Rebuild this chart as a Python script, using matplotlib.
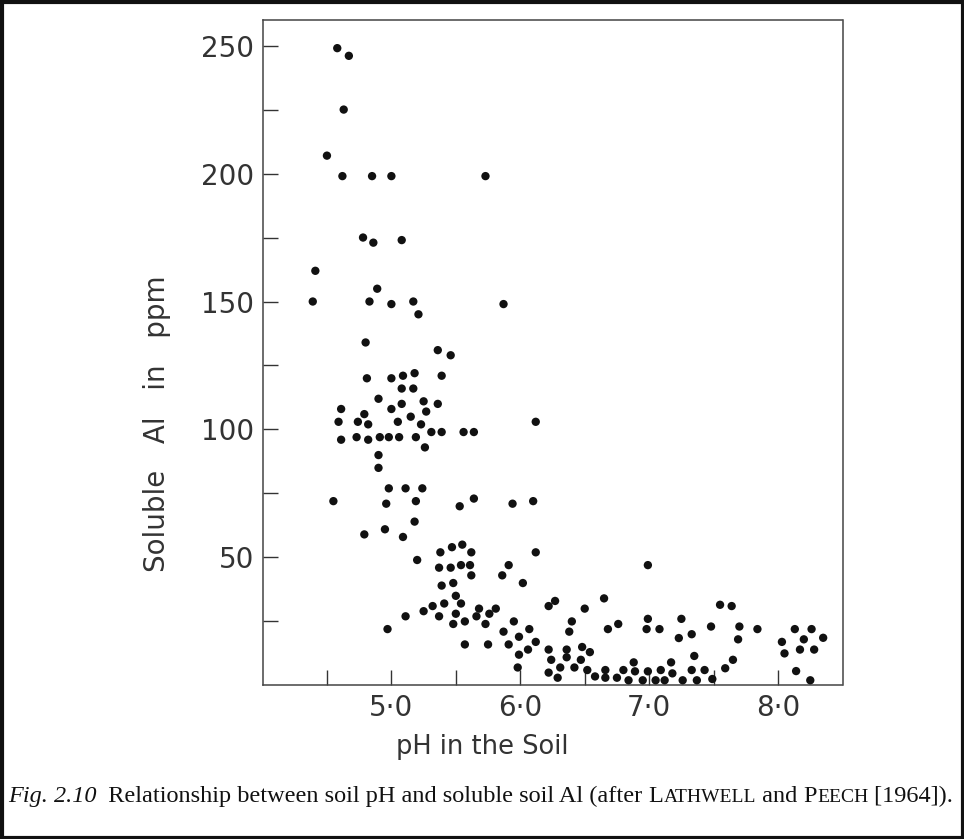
import matplotlib
matplotlib.use("Agg")
import matplotlib.pyplot as plt
from matplotlib.patches import Rectangle

# soil pH vs soluble Al (ppm)
ph = [4.58, 4.67, 4.63, 4.50, 4.62, 4.85, 5.00, 5.73,
      4.78, 4.86, 5.08,
      4.41, 4.39, 4.89, 4.83, 5.00, 5.17, 5.21, 5.87,
      4.80, 5.36, 5.46,
      4.81, 5.00, 5.09, 5.18, 5.39,
      5.08, 5.17,
      4.90, 5.08, 5.25, 5.36,
      4.61, 4.79, 5.00, 5.15, 5.27,
      4.59, 4.74, 4.82, 5.05, 5.23, 6.12,
      4.61, 4.73, 4.82, 4.91, 4.98, 5.06, 5.19, 5.31, 5.39, 5.56, 5.64,
      5.26, 4.90, 4.90,
      4.55, 4.98, 5.11, 5.24, 4.96, 5.19, 5.53, 5.64, 5.94, 6.10,
      5.18, 4.79, 4.95, 5.09,
      5.20, 6.12,
      5.38, 5.47, 5.55, 5.62,
      5.37, 5.46, 5.54, 5.61, 5.91,
      5.62, 5.86, 6.02, 5.39, 5.48, 5.50,
      5.41, 5.32, 5.54, 5.25, 5.11, 5.37, 5.50,
      5.68, 5.81, 5.66, 5.76, 5.48, 5.57, 5.73, 4.97, 5.57, 5.75,
      5.87, 5.95, 5.91, 5.99, 6.07, 6.12, 6.06, 5.99, 5.98,
      6.22, 6.27, 6.22, 6.24, 6.22, 6.31, 6.29,
      6.40, 6.38, 6.36, 6.36, 6.42, 6.48, 6.54, 6.47, 6.50, 6.52, 6.58,
      6.65, 6.68, 6.76, 6.66, 6.66, 6.75, 6.80, 6.84, 6.88, 6.89, 6.95,
      6.99, 6.99, 6.98, 7.08, 6.99, 7.05, 7.09, 7.12, 7.17, 7.18,
      7.25, 7.23, 7.33, 7.35, 7.33, 7.26, 7.37, 7.43, 7.49, 7.48,
      7.55, 7.64, 7.59, 7.65, 7.70, 7.69, 7.84,
      8.03, 8.05, 8.13, 8.20, 8.26, 8.35, 8.17, 8.28, 8.14, 8.25]
al = [249, 246, 225, 207, 199, 199, 199, 199,
      175, 173, 174,
      162, 150, 155, 150, 149, 150, 145, 149,
      134, 131, 129,
      120, 120, 121, 122, 121,
      116, 116,
      112, 110, 111, 110,
      108, 106, 108, 105, 107,
      103, 103, 102, 103, 102, 103,
      96, 97, 96, 97, 97, 97, 97, 99, 99, 99, 99,
      93, 90, 85,
      72, 77, 77, 77, 71, 72, 70, 73, 71, 72,
      64, 59, 61, 58,
      49, 52,
      52, 54, 55, 52,
      46, 46, 47, 47, 47,
      43, 43, 40, 39, 40, 35,
      32, 31, 32, 29, 27, 27, 28,
      30, 30, 27, 28, 24, 25, 24, 22, 16, 16,
      21, 25, 16, 19, 22, 17, 14, 12, 7,
      31, 33, 14, 10, 5, 7, 3,
      25, 21, 14, 11, 7, 15, 13, 10, 30, 6, 3.5,
      34, 22, 24, 6, 3, 3, 6, 2, 9, 5.5, 2,
      47, 26, 22, 22, 5.5, 2, 6, 2, 9, 4.7,
      26, 18.5, 20, 11.5, 6, 2, 2, 6, 2.5, 23,
      31.5, 31, 6.7, 10, 23, 18, 22,
      17, 12.5, 22, 18, 22, 18.6, 14, 14, 5.6, 2]

xticks = [4.5, 5.0, 5.5, 6.0, 6.5, 7.0, 7.5, 8.0]
xticklabels = ["", "5·0", "", "6·0", "", "7·0", "", "8·0"]
yticks = [25, 50, 75, 100, 125, 150, 175, 200, 225, 250]
yticklabels = ["", "50", "", "100", "", "150", "", "200", "", "250"]

W, H = 964, 839
fig = plt.figure(figsize=(W / 100, H / 100), dpi=100)
sans = ["DejaVu Sans"]
txtcol = "#333333"

ax = fig.add_axes([262.5 / W, 1 - 685.4 / H, (842.5 - 262.5) / W, (685.4 - 20) / H])
ax.scatter(ph, al, s=36, color="#111111", edgecolors="none", zorder=3)
ax.set_xlim(4.0, 8.5)
ax.set_ylim(0, 260)
ax.set_xticks(xticks)
ax.set_xticklabels(xticklabels)
ax.set_yticks(yticks)
ax.set_yticklabels(yticklabels)
ax.tick_params(direction="in", length=11, width=1.0, color="#333333",
               labelsize=20, labelcolor=txtcol, pad=6)
for lab in ax.get_xticklabels() + ax.get_yticklabels():
    lab.set_family(sans)
for sp in ax.spines.values():
    sp.set_color("#444444")
    sp.set_linewidth(1.1)

fig.text(482 / W, 1 - 747 / H, "pH in the Soil", ha="center", va="center",
         fontsize=18.5, family=sans, color=txtcol)
fig.text(157 / W, 1 - 424 / H, "Soluble   Al   in   ppm", ha="center", va="center",
         rotation=90, fontsize=20, family=sans, color=txtcol)

# caption with small caps done by hand
big, small = 17.5, 14
pieces = [("Fig. 2.10", "italic", big),
          ("  Relationship between soil pH and soluble soil Al (after ", "normal", big),
          ("L", "normal", big), ("ATHWELL", "normal", small),
          (" and ", "normal", big),
          ("P", "normal", big), ("EECH", "normal", small),
          (" [1964]).", "normal", big)]
r = fig.canvas.get_renderer()
x = 8
for txt, style, size in pieces:
    t = fig.text(x / W, 1 - 802 / H, txt, ha="left", va="baseline", fontsize=size,
                 family="Liberation Serif", style=style, color="#111111")
    x += t.get_window_extent(renderer=r).width

fig.patches.append(Rectangle((1.5 / W, 1.5 / H), 1 - 3 / W, 1 - 3 / H, transform=fig.transFigure,
                             fill=False, edgecolor="#111111", linewidth=3))

fig.savefig("out.png", dpi=100)
